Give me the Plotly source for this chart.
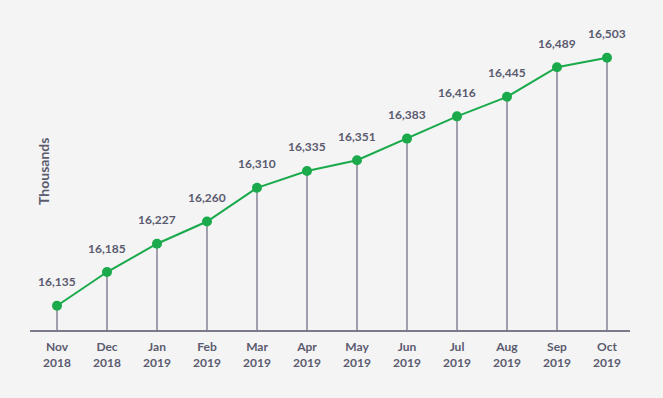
import plotly.graph_objects as go

months = ["Nov<br>2018", "Dec<br>2018", "Jan<br>2019", "Feb<br>2019", "Mar<br>2019", "Apr<br>2019",
          "May<br>2019", "Jun<br>2019", "Jul<br>2019", "Aug<br>2019", "Sep<br>2019", "Oct<br>2019"]
values = [16135, 16185, 16227, 16260, 16310, 16335, 16351, 16383, 16416, 16445, 16489, 16503]
labels = [f"{v:,}" for v in values]

y_min, y_max = 16099, 16559
x = list(range(len(months)))

bg = "#f4f4f4"
txt = "#5b5b70"
green = "#1aaa4b"

fig = go.Figure()
# drop lines
dx, dy = [], []
for i, v in zip(x, values):
    dx += [i, i, None]
    dy += [y_min, v, None]
fig.add_trace(go.Scatter(x=dx, y=dy, mode="lines", line=dict(color="#4a4a66", width=1),
                         hoverinfo="skip", showlegend=False))
fig.add_trace(go.Scatter(
    x=x, y=values, mode="lines+markers",
    line=dict(color=green, width=2), marker=dict(color=green, size=10),
    showlegend=False, cliponaxis=False))

for i, v, lab in zip(x, values, labels):
    fig.add_annotation(x=i, y=v, text=f"<b>{lab}</b>", showarrow=False, yshift=24,
                       font=dict(family="Lato, sans-serif", size=12, color=txt))

fig.add_annotation(xref="paper", yref="paper", x=(44 - 30) / 600, y=0.51, text="<b>Thousands</b>",
                   xanchor="center", yanchor="middle",
                   textangle=-90, showarrow=False, font=dict(family="Lato, sans-serif", size=14, color=txt))

fig.update_layout(
    width=663, height=398, paper_bgcolor=bg, plot_bgcolor=bg,
    margin=dict(l=30, r=33, t=20, b=68),
    font=dict(family="Lato, sans-serif", color=txt, size=12),
    xaxis=dict(range=[-0.54, 11.46], tickvals=x, ticktext=[f"<b>{m}</b>" for m in months],
               showgrid=False, zeroline=False, showline=True, linecolor="#7a7a88", linewidth=1.5,
               ticks="", ticklabelstandoff=5, tickfont=dict(size=12, color=txt)),
    yaxis=dict(range=[y_min, y_max], showgrid=False, zeroline=False, showticklabels=False),
)
fig.write_html("out.html", post_script="document.body.style.margin='0';",
               config={"displayModeBar": False})
